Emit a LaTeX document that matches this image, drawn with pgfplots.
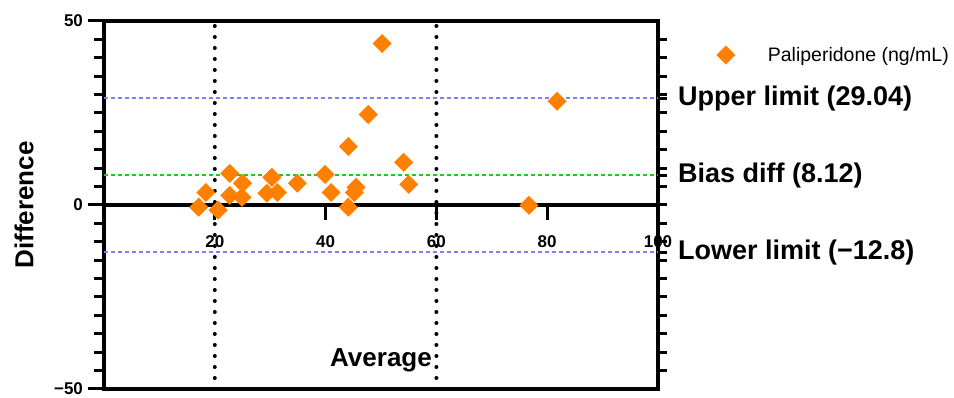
\documentclass[border=0pt]{standalone}
\usepackage{fontspec}
\setmainfont{Liberation Sans}
\usepackage{pgfplots}
\pgfplotsset{compat=1.18}
\definecolor{orangeC}{RGB}{255,128,0}
\definecolor{blueC}{RGB}{128,128,255}
\definecolor{greenC}{RGB}{30,200,30}
\begin{document}
\begin{tikzpicture}
\useasboundingbox (-104pt,-9pt) rectangle (850pt,389pt);
% right side axis with limit labels
\begin{axis}[at={(0,0)}, anchor=south west, scale only axis,
  width=554pt, height=368pt,
  xmin=0, xmax=100, ymin=-50, ymax=50,
  axis x line=none, axis y line=right,
  line width=3.5pt,
  axis line style={-, line width=3.5pt},
  ytick={-12.8,8.12,29.04},
  yticklabels={Lower limit (−12.8),Bias diff (8.12),Upper limit (29.04)},
  minor ytick={-45,-40,...,45},
  tick align=outside,
  major tick length=9pt, minor tick length=9pt,
  tick style={line width=3pt, black},
  yticklabel style={font=\bfseries\fontsize{27}{27}\selectfont, anchor=west, xshift=6pt},
]
\addplot[draw=none, forget plot] coordinates {(0,0)};
\end{axis}
% zero line with x ticks
\begin{axis}[at={(0,0)}, anchor=south west, scale only axis,
  width=554pt, height=368pt,
  xmin=0, xmax=100, ymin=-50, ymax=50,
  axis x line=middle, axis y line=none,
  line width=3.5pt,
  axis line style={-, line width=3.5pt},
  xtick={20,40,60,80,100},
  xticklabels={20,40,60,80,100},
  xtick align=outside,
  major tick length=15pt,
  tick style={line width=3pt, black},
  xticklabel style={font=\bfseries\fontsize{17}{17}\selectfont, yshift=-11pt},
]
\addplot[draw=none, forget plot] coordinates {(0,0)};
\end{axis}
% main axis
\begin{axis}[at={(0,0)}, anchor=south west, scale only axis,
  width=554pt, height=368pt,
  xmin=0, xmax=100, ymin=-50, ymax=50,
  clip=false,
  line width=3.5pt,
  axis line style={line width=3.5pt},
  xtick=\empty,
  ytick={-50,0,50},
  yticklabels={−50,0,50},
  minor ytick={-45,-40,...,45},
  ytick pos=left,
  tick align=outside,
  major tick length=16pt, minor tick length=10pt,
  tick style={line width=3pt, black},
  yticklabel style={font=\bfseries\fontsize{17}{17}\selectfont},
  xlabel={Average},
  xlabel style={at={(axis description cs:0.5,0.079)}, anchor=center, font=\bfseries\fontsize{26}{26}\selectfont},
  ylabel={Difference},
  ylabel style={at={(axis description cs:-0.1444,0.5)}, anchor=center, font=\bfseries\fontsize{26}{26}\selectfont},
  legend style={draw=none, fill=none, inner sep=0pt, outer sep=0pt,
    at={(axis description cs:1.108,0.9076)}, anchor=west,
    font=\fontsize{19.5}{19.5}\selectfont},
  legend image code/.code={\path[draw=none] (-8pt,0pt) -- (40pt,0pt); \draw[only marks,#1] plot coordinates {(0pt,0pt)};},
]
\addplot[forget plot, black, line width=4pt, line cap=round, dash pattern=on 0pt off 11pt] coordinates {(20,-50) (20,50)};
\addplot[forget plot, black, line width=4pt, line cap=round, dash pattern=on 0pt off 11pt] coordinates {(60,-50) (60,50)};
\addplot[forget plot, blueC, line width=1.5pt, dash pattern=on 4pt off 3pt] coordinates {(0,29.04) (100,29.04)};
\addplot[forget plot, blueC, line width=1.5pt, dash pattern=on 4pt off 3pt] coordinates {(0,-12.8) (100,-12.8)};
\addplot[forget plot, greenC, line width=1.5pt, dash pattern=on 4pt off 3pt] coordinates {(0,8.12) (100,8.12)};
\addplot[only marks, mark=square*, mark size=5pt, color=orangeC,
  mark options={rotate=45, fill=orangeC, draw=none}] table {
x y
17.1 -0.6
18.4 3.4
20.6 -1.4
22.7 8.6
22.7 2.6
25.0 5.9
24.9 2.1
29.4 3.2
30.3 7.5
31.3 3.4
34.9 5.9
39.9 8.3
41.0 3.4
44.1 15.9
44.1 -0.6
45.2 3.4
45.5 4.8
47.7 24.6
50.2 43.9
54.1 11.6
55.0 5.6
76.7 -0.1
81.8 28.2
};
\addlegendentry{Paliperidone (ng/mL)}
\end{axis}
\end{tikzpicture}
\end{document}
